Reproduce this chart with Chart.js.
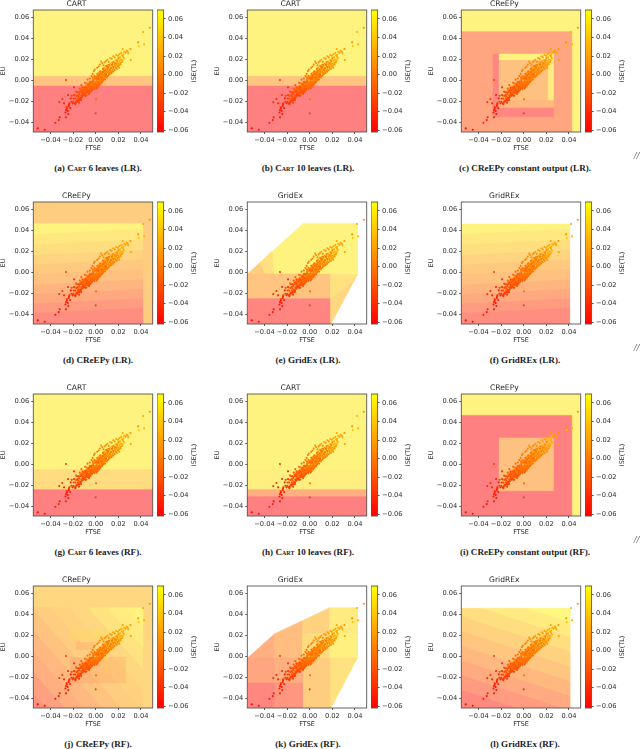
<!DOCTYPE html>
<html><head><meta charset="utf-8">
<style>
html,body{margin:0;padding:0;background:#fff;width:640px;height:749px;overflow:hidden}
canvas{position:absolute;display:block;filter:blur(0.3px)}
.cap{position:absolute;font:bold 9.1px "Liberation Serif",serif;color:#222;white-space:nowrap;transform:translate(-50%,-50%)}
.cap span{font-variant:small-caps}
.sl{position:absolute;font:italic 10px "Liberation Serif",serif;color:#444;transform:translate(-50%,-50%)}
</style></head><body>
<script src="https://cdn.jsdelivr.net/npm/chart.js@4/dist/chart.umd.js"></script>
<script>
const titles=["CART","CART","CReEPy","CReEPy","GridEx","GridREx","CART","CART","CReEPy","CReEPy","GridEx","GridREx"];
const captions=['(a) <span>Cart</span> 6 leaves (LR).','(b) <span>Cart</span> 10 leaves (LR).','(c) CReEPy constant output (LR).','(d) CReEPy (LR).','(e) GridEx (LR).','(f) GridREx (LR).','(g) <span>Cart</span> 6 leaves (RF).','(h) <span>Cart</span> 10 leaves (RF).','(i) CReEPy constant output (RF).','(j) CReEPy (RF).','(k) GridEx (RF).','(l) GridREx (RF).'];
const xTicks=[-0.04,-0.02,0,0.02,0.04];
const yTicks=[-0.04,-0.02,0,0.02,0.04,0.06];
const cbTicks=[-0.06,-0.04,-0.02,0,0.02,0.04,0.06];
const xRange=[-0.0552,0.0504], yRange=[-0.049,0.0668], cbRange=[-0.062,0.0697];

const ftse=[
-.0513,-.0451,-.0357,-.0327,-.0319,-.0263,-.0295,-.0322,-.028,-.0245,
-.0263,-.0242,-.0263,-.0257,-.0239,-.0233,-.0215,-.0221,-.0192,-.0192,
0,.0003,.0478,.0419,.0375,.0381,.0428,.0239,.0307,.0274,
.0263,.0289,.031,.0251,.0283,-.0248,-.0268,-.0255,-.0236,-.0226,
-.0198,-.0187,-.0176,-.0181,-.0169,-.0172,-.0163,-.0158,-.0161,-.0149,
-.0153,-.0146,-.0142,-.0138,-.0145,-.0136,-.0132,-.0128,-.0134,-.0126,
-.0122,-.0118,-.0124,-.0116,-.0113,-.0108,-.0112,-.0104,-.0101,-.0106,
-.0098,-.0096,-.0102,-.0093,-.0091,-.0087,-.0089,-.0084,-.0082,-.0086,
-.0079,-.0076,-.0078,-.0073,-.0071,-.0074,-.0069,-.0066,-.0068,-.0063,
-.0061,-.0064,-.0058,-.0056,-.0059,-.0053,-.0051,-.0054,-.0048,-.0046,
-.0049,-.0043,-.0041,-.0044,-.0038,-.0036,-.0039,-.0033,-.0031,-.0034,
-.0028,-.0026,-.0029,-.0023,-.0021,-.0024,-.0018,-.0016,-.0019,-.0013,
-.0011,-.0014,-.0008,-.0006,-.0009,-.0003,-.0001,-.0004,.0002,.0004,
.0001,.0007,.0009,.0006,.0012,.0014,.0011,.0017,.0019,.0016,
.0022,.0024,.0021,.0027,.0029,.0026,.0032,.0034,.0031,.0037,
.0039,.0036,.0042,.0044,.0041,.0047,.0049,.0046,.0052,.0054,
.0051,.0057,.0059,.0056,.0062,.0064,.0061,.0067,.0069,.0066,
.0072,.0074,.0071,.0077,.0079,.0076,.0082,.0084,.0081,.0087,
.0089,.0086,.0092,.0094,.0091,.0097,.0099,.0096,.0102,.0104,
.0107,.0109,.0113,.0116,.0119,.0122,.0124,.0127,.0131,.0134,
.0136,.0139,.0142,.0146,.0149,.0152,.0154,.0157,.0161,.0164,
.0167,.0171,.0174,.0177,.0181,.0184,.0187,.0192,.0196,.0199,
.0203,.0208,.0212,.0216,.0221,.0224,.0229,.0233,.0238,.0243,
-.0141,-.0117,-.0095,-.0152,-.0083,-.0127,-.0061,-.0109,-.0072,-.0134,
-.0052,-.0038,-.0091,-.0027,-.0066,-.0016,-.0045,-.0008,-.0033,-.0057,
.0013,.0026,-.0012,.0036,.0048,.0008,.0058,.0018,.0069,.0031,
.0079,.0042,.0091,.0055,.0103,.0068,.0116,.0083,.0128,.0097,
.0141,.0111,.0156,.0124,.0169,.0138,.0182,.0151,.0197,.0166,
.0211,.0179,.0226,.0193,.0241,.0206,.0218,.0186,.0248,.0232,
-.0021,.0011,.0033,-.0044,.0062,-.0071,.0086,-.0098,.0109,-.0118,
.0003,-.0037,.0024,-.0063,.0046,-.0084,.0073,.0015,-.0025,.0054,
-.0011,.0038,-.0052,.0064,-.0076,.0094,.0021,.0078,-.0088,.0117,
.0125,.0148,.0173,.0135,.0158,.0189,.0104,.0091,.0143,.0202,
-.0205,-.0195,-.0212,-.0179,-.0164,-.0188,-.0174,-.0147,-.0156,-.0129
];
const eu=[
-.0456,-.0468,-.0402,-.0377,-.0351,.0003,-.0177,-.0206,-.0218,-.0139,
-.0351,-.032,-.0282,-.0256,-.0244,-.0218,-.0203,-.0171,-.0139,-.0066,
-.0313,-.018,.05,.0459,.0361,.0326,.0342,.0298,.0298,.0282,
.0263,.0256,.0193,.0272,.0272,-.0291,-.0305,-.0268,-.0229,-.0262,
-.0204,-.0218,-.0209,-.0173,-.0192,-.0148,-.0201,-.0171,-.0139,-.0183,
-.0152,-.0118,-.0191,-.0164,-.0132,-.0098,-.0173,-.0143,-.0112,-.0089,
-.0158,-.0129,-.0102,-.0079,-.0148,-.0122,-.0097,-.0071,-.0139,-.0118,
-.0132,-.0106,-.0084,-.0062,-.0124,-.0103,-.0079,-.0058,-.0031,-.0117,
-.0096,-.0121,-.0074,-.0105,-.0052,-.0083,-.0116,-.0068,-.0092,-.0041,
-.0103,-.0059,-.0085,-.0112,-.0036,-.0072,-.0094,-.0048,-.0081,-.0063,
-.0022,-.0089,-.0054,-.0031,-.0077,-.0046,-.0011,-.0062,-.0083,-.0028,
-.0068,-.0039,-.0014,-.0073,-.0052,.0009,-.0061,-.0029,-.0044,.0021,
-.0071,-.0018,-.0036,-.0054,.0012,-.0023,-.0047,.0034,-.0063,-.0012,
-.0028,.0004,-.0041,.0019,-.0052,-.0016,.0041,-.0031,.0007,.0062,
-.0024,.0016,-.0038,.0028,-.0009,.0047,-.0029,.0011,.0073,-.0018,
.0034,-.0006,-.0022,.0021,.0058,-.0011,.0032,.0087,.0006,.0049,
.0016,.0068,-.0007,.0038,.0021,.0104,.0053,.0011,.0076,.0033,
.0019,.0092,.0048,.0063,.0029,.0121,.0081,.0041,.0057,.0108,
.0071,.0031,.0134,.0094,.0052,.0083,.0116,.0067,.0042,.0101,
.0146,.0079,.0123,.0059,.0091,.0135,.0072,.0108,.0158,.0086,
.0117,.0068,.0142,.0099,.0164,.0127,.0083,.0111,.0178,.0152,
.0096,.0137,.0169,.0121,.0193,.0148,.0109,.0176,.0138,.0204,
.0159,.0121,.0186,.0219,.0151,.0198,.0172,.0236,.0191,.0244,
-.0078,-.0066,-.0022,-.0112,-.0143,-.0045,-.0129,-.0139,.0007,-.0171,
.0018,.0041,-.0149,.0062,-.0031,.0088,-.0107,.0103,-.0091,-.0125,
.0119,.0132,-.0083,.0151,.0178,-.0076,.0162,-.0063,.0144,-.0049,
.0171,-.0033,.0183,-.0018,.0196,.0002,.0176,.0009,.0213,.0027,
.0204,.0044,.0229,.0057,.0218,.0071,.0241,.0086,.0233,.0098,
.0249,.0118,.0261,.0131,.0228,.0143,.0166,.0159,.0211,.0174,
-.0006,.0027,.0052,-.0056,.0079,-.0089,.0101,-.0087,.0119,-.0111,
.0022,-.0019,.0039,-.0041,.0066,-.0067,.0093,.0062,.0028,.0028,
.0043,.0083,-.0014,.0112,-.0102,.0136,.0017,.0059,-.0058,.0149,
.0098,.0171,.0161,.0117,.0128,.0187,.0132,.0052,.0147,.0212,
-.0218,-.0172,-.0147,-.0225,-.0113,-.0142,-.0105,-.0212,-.0192,-.0186
];
const ise=[
-.060,-.058,-.050,-.052,-.048,-.030,-.040,-.036,-.044,-.042,
-.052,-.050,-.048,-.044,-.046,-.040,-.038,-.042,-.034,-.040,
-.030,-.008,.014,.026,.010,.040,.030,.022,.012,.024,
.016,.028,.020,.030,.018,-.052,-.048,-.046,-.044,-.048,
-.034,-.030,-.036,-.026,-.028,-.024,-.032,-.020,-.026,-.030,
-.022,-.018,-.030,-.024,-.020,-.016,-.026,-.022,-.018,-.012,
-.026,-.020,-.016,-.010,-.024,-.018,-.014,-.008,-.022,-.016,
-.020,-.014,-.012,-.006,-.018,-.016,-.010,-.008,-.002,-.016,
-.012,-.018,-.008,-.014,-.004,-.010,-.016,-.006,-.012,-.002,
-.014,-.006,-.010,-.018,.000,-.008,-.012,-.004,-.010,-.006,
.002,-.012,-.004,-.002,-.010,-.004,.004,-.006,-.012,.000,
-.008,-.002,.002,-.010,-.006,.006,-.008,-.002,-.004,.008,
-.010,.000,-.004,-.006,.006,.000,-.006,.010,-.008,.002,
-.002,.004,-.006,.006,-.008,.000,.010,-.004,.004,.012,
-.002,.004,-.006,.006,.000,.010,-.004,.002,.014,.000,
.006,.000,-.002,.004,.010,.000,.006,.014,.002,.008,
.002,.012,.000,.008,.004,.016,.008,.002,.012,.006,
.004,.014,.008,.010,.004,.018,.012,.006,.008,.016,
.010,.004,.018,.014,.006,.012,.016,.010,.006,.014,
.020,.010,.016,.008,.012,.018,.010,.014,.020,.012,
.014,.008,.018,.012,.022,.016,.010,.014,.024,.020,
.012,.018,.022,.014,.026,.020,.014,.022,.018,.026,
.020,.014,.024,.028,.018,.026,.022,.030,.024,.032,
-.018,-.020,-.012,-.026,-.022,-.016,-.016,-.028,-.006,-.030,
-.008,-.006,-.026,-.004,-.014,.002,-.020,.004,-.018,-.022,
.004,.006,-.014,.010,.014,-.016,.012,-.010,.008,-.012,
.012,-.006,.014,-.006,.016,-.004,.012,-.004,.018,-.002,
.016,.002,.020,.004,.018,.006,.022,.008,.022,.010,
.024,.012,.026,.014,.026,.016,.020,.016,.026,.022,
-.010,-.008,-.006,-.014,-.004,-.016,-.002,-.018,.000,-.022,
-.008,-.012,-.006,-.014,-.004,-.018,-.002,-.004,-.010,-.006,
-.006,-.002,-.012,.000,-.018,.002,-.008,-.004,-.016,.004,
.000,.006,.008,.002,.004,.010,.000,-.004,.004,.012,
-.040,-.032,-.030,-.040,-.024,-.028,-.022,-.034,-.032,-.030
];

/* region outputs (ISE) with polygon vertices in FTSE/EU units */
const fullBox=[-.056,-.06,.06,.07];
const regionsA=[[.0573,-.056,-.06,.06,.07],[.0098,-.056,-.06,.06,.0038],[-.0615,-.056,-.06,.06,-.0054]];
const regionsB=[[.0573,-.056,-.06,.06,.07],[.0098,-.056,-.06,.06,.0038],[-.0615,-.056,-.06,.06,-.0054]];
const regionsC=[[.0573,-.056,-.06,.06,.07],[-.023,-.056,-.06,.0425,.0462],[-.054,-.0268,-.0345,-.0215,.025],[-.054,-.0268,-.0345,.0263,-.0256],[.0573,-.0215,.019,.0263,.025],[.05,.0212,-.0193,.0263,.025],[.0057,-.0215,-.0193,.0212,.019],[-.0026,-.0215,-.0256,.0263,-.0193]];
const regionsG=[[.0573,-.056,-.06,.06,.07],[.0335,-.056,-.06,.06,-.005],[-.0615,-.056,-.06,.06,-.024]];
const regionsH=[[.0573,-.056,-.06,.06,.07],[.052,-.056,-.06,.06,-.005],[-.0129,-.056,-.06,.06,-.024],[-.0615,-.056,-.06,.06,-.0307]];
const regionsI=[[.0573,-.056,-.06,.06,.07],[-.0615,-.056,-.06,.0425,.0465],[.0057,-.0215,-.025,.0263,.025]];
const hullE=[
[.0573,-.0549,-.0016,-.0059,.0465,.0422,.0465,.0422,-.0022],
[.018,-.0549,-.0016,-.0437,.0095,-.0392,-.0016],
[.0387,-.0437,.0095,-.0333,.02,-.0319,-.0016,-.0392,-.0016],
[.0098,-.0549,-.0016,.0183,-.0016,.0183,-.025,-.0549,-.025],
[-.056,-.0549,-.025,.0183,-.025,.0183,-.05,-.0549,-.05],
[.0387,.0183,-.0016,.0422,-.0022,.0333,-.0128,.0183,-.025],
[.0283,.0333,-.0128,.0422,-.0022,.0183,-.05,.0183,-.025]
];
const hullK=[
[-.0129,-.0549,-.0016,-.031,.0215,-.031,-.0016],
[.0026,-.031,-.0016,-.031,.0215,-.0065,.0339,-.0065,-.0016],
[.0232,-.0065,.0215,-.0065,.0339,.0177,.0462,.0177,.0215],
[.0335,-.0065,-.0016,-.0065,.0215,.0177,.0215,.0177,-.0016],
[.049,.0177,.0462,.0422,.0462,.0422,.0215,.0177,.0215],
[.0542,.0177,.0215,.0422,.0215,.0422,-.0016,.0177,-.0016],
[.0387,.0177,-.0016,.0422,-.0016,.0183,-.05,.0177,-.05],
[.018,-.0065,-.0016,.0177,-.0016,.0177,-.05,-.0065,-.05],
[-.023,-.0549,-.0016,-.031,-.0016,-.031,-.0253,-.0549,-.0253],
[-.0129,-.031,-.0016,-.0065,-.0016,-.0065,-.0253,-.031,-.0253],
[-.054,-.0549,-.0253,-.031,-.0253,-.031,-.05,-.0549,-.05],
[-.0387,-.031,-.0253,-.0065,-.0253,-.0065,-.05,-.031,-.05]
];
/* bands: [output, EU at left end, EU at right end], top band first */
const bandsLR=[[.0573,.07,.07],[.046,.036,.042],[.0356,.026,.032],[.025,.016,.022],[.0149,.007,.013],[.0052,-.002,.004],[-.0072,-.012,-.006],[-.019,-.021,-.015],[-.0335,-.030,-.024],[-.047,-.039,-.033]];
const bandsJ=[[.0573,.3,.3],[.049,.145,.0058],[.041,.125,-.0142],[.0283,.105,-.0342],[.0232,.085,-.0542],[.018,.065,-.0742],[.0077,.045,-.0942],[-.0026,.025,-.1142],[-.0129,.005,-.1342],[-.028,-.015,-.1542],[-.045,-.035,-.1742]];
const bandsL=[[.0625,.3,.3],[.049,.066,.0254],[.0356,.052,.0114],[.0232,.038,-.0026],[.0108,.024,-.0166],[-.0026,.01,-.0306],[-.018,-.004,-.0446],[-.0335,-.018,-.0586],[-.051,-.032,-.0726]];
/* outer shell around the rule box */
const shellD=[[.018,-.056,.0468,.0425,.0468,.0425,-.06,.06,-.06,.06,.07,-.056,.07]];
const shellF=[[null,-.056,.0465,.0416,.0465,.0416,-.06,.06,-.06,.06,.07,-.056,.07]];
const shellJ=[[.0283,-.056,.0468,.0425,.0468,.0425,-.06,.06,-.06,.06,.07,-.056,.07]];
const shellL=[[null,-.056,.0462,.0419,.0462,.0419,-.06,.06,-.06,.06,.07,-.056,.07]];
/* faint overlays in panel (j): [output, opacity, x0,y0,x1,y1] */
const patchesJ=[[-.0615,.07,-.0227,-.0253,.0268,-.0006],[-.0615,.08,-.0174,.0063,-.0015,.0136],[.0625,.1,-.0227,.015,.02,.0253],[.0625,.25,.0086,-.017,.0103,-.001]];

const tOf=v=>Math.max(0,Math.min(1,(v-cbRange[0])/(cbRange[1]-cbRange[0])));
const autumn=v=>`rgb(255,${Math.round(255*tOf(v))},0)`;
const pale=(v,a)=>v===null?'#fff':(a?`rgba(255,${Math.round(255*tOf(v))},0,${a})`:`rgb(255,${Math.round(127.5+127.5*tOf(v))},128)`);
const box=r=>({v:r[0],pts:[[r[1],r[2]],[r[3],r[2]],[r[3],r[4]],[r[1],r[4]]]});
const poly=r=>{const p=[];for(let i=1;i<r.length;i+=2)p.push([r[i],r[i+1]]);return{v:r[0],pts:p};};
const band=b=>({v:b[0],pts:[[fullBox[0],-.6],[fullBox[0],b[1]],[fullBox[2],b[2]],[fullBox[2],-.6]]});
const patch=p=>({v:p[0],a:p[1],pts:[[p[2],p[3]],[p[4],p[3]],[p[4],p[5]],[p[2],p[5]]]});
const panels=[
 regionsA.map(box),regionsB.map(box),regionsC.map(box),
 [...bandsLR.map(band),...shellD.map(poly)],hullE.map(poly),[...bandsLR.map(band),...shellF.map(poly)],
 regionsG.map(box),regionsH.map(box),regionsI.map(box),
 [...bandsJ.map(band),...patchesJ.map(patch),...shellJ.map(poly)],hullK.map(poly),[...bandsL.map(band),...shellL.map(poly)]
];

const colX=[33.3,247.3,461.3], rowY=[10,202.3,394,586], plotW=119.4, plotH=122;
const capX=[98,308,525], capDY=35.5;
const TXT='#2a2a2a', LINE='#555';
const fmt=v=>{const s=Math.abs(v).toFixed(2);return (v<-1e-9?'\u2212':'')+s;};
const tickFont={family:'"DejaVu Sans"',size:6.7};
const frame={id:'frame',afterDraw(c){const a=c.chartArea,x=c.ctx;x.save();x.strokeStyle=LINE;x.lineWidth=.9;x.strokeRect(a.left,a.top,a.right-a.left,a.bottom-a.top);x.restore();}};
const cbLabel={id:'cbLabel',afterDraw(c){const a=c.chartArea,x=c.ctx;x.save();x.fillStyle=TXT;x.font='6.4px "DejaVu Sans"';x.textAlign='center';x.textBaseline='middle';x.translate(a.right+30.5,(a.top+a.bottom)/2);x.rotate(-Math.PI/2);x.fillText('ISE(TL)',0,0);x.restore();}};
function mk(left,top,w,h){const c=document.createElement('canvas');c.width=w;c.height=h;c.style.left=left+'px';c.style.top=top+'px';c.style.width=w+'px';c.style.height=h+'px';document.body.appendChild(c);return c;}
const points=ftse.map((x,i)=>({x,y:eu[i]}));
const pointCols=ise.map(autumn);

panels.forEach((regions,i)=>{
 const col=i%3,row=Math.floor(i/3),pl=colX[col],pt=rowY[row];
 const left=pl-33.3,top=pt-10;
 const datasets=[{type:'scatter',label:'points',data:points,backgroundColor:pointCols,borderWidth:0,pointRadius:1.05,pointHoverRadius:1.05,order:0}];
 regions.forEach((r,k)=>{const c=pale(r.v,r.a);const d=r.pts.map(p=>({x:p[0],y:p[1]}));d.push(d[0]);
  datasets.push({type:'scatter',label:'region '+k,showLine:true,fill:'shape',tension:0,borderWidth:r.a?0:.6,pointRadius:0,
   backgroundColor:c,borderColor:r.a?'transparent':c,data:d,order:regions.length-k});});
 new Chart(mk(left,top,Math.ceil(33.3+plotW+1),156),{type:'scatter',data:{datasets},plugins:[frame],options:{
  responsive:false,animation:false,devicePixelRatio:1,events:[],
  layout:{padding:{left:0,top:0,right:Math.ceil(33.3+plotW+1)-33.3-plotW,bottom:0}},
  plugins:{legend:{display:false},tooltip:{enabled:false},
    title:{display:true,text:titles[i],color:TXT,font:{family:'"DejaVu Sans"',size:7.6,weight:'normal',lineHeight:1},padding:{top:0,bottom:2.4}}},
  scales:{
   x:{type:'linear',min:xRange[0],max:xRange[1],afterFit(s){s.height=24;},afterBuildTicks(s){s.ticks=xTicks.map(value=>({value}));},
      grid:{drawOnChartArea:false,drawTicks:true,tickLength:2,color:LINE},border:{display:false},
      ticks:{color:TXT,font:tickFont,padding:2.5,maxRotation:0,minRotation:0,autoSkip:false,callback:fmt},
      title:{display:true,text:'FTSE',color:TXT,font:{family:'"DejaVu Sans"',size:6.4,lineHeight:1},padding:{top:0,bottom:4}}},
   y:{type:'linear',min:yRange[0],max:yRange[1],afterFit(s){s.width=33.3;},afterBuildTicks(s){s.ticks=yTicks.map(value=>({value}));},
      grid:{drawOnChartArea:false,drawTicks:true,tickLength:2,color:LINE},border:{display:false},
      ticks:{color:TXT,font:tickFont,padding:2,autoSkip:false,callback:fmt},
      title:{display:true,text:'EU',color:TXT,font:{family:'"DejaVu Sans"',size:6.4,lineHeight:1},padding:{top:0,bottom:0}}}
  }}});
 /* colour bar */
 new Chart(mk(pl+123.7,top,52,156),{type:'bar',data:{labels:['ISE(TL)'],datasets:[{data:[cbRange],borderWidth:0,barPercentage:1,categoryPercentage:1,
   backgroundColor(ctx){const a=ctx.chart.chartArea;if(!a)return'#f00';const g=ctx.chart.ctx.createLinearGradient(0,a.bottom,0,a.top);g.addColorStop(0,'rgb(255,0,0)');g.addColorStop(1,'rgb(255,255,0)');return g;}}]},
  plugins:[frame,cbLabel],options:{responsive:false,animation:false,devicePixelRatio:1,events:[],
  layout:{padding:{left:0,top:10,right:0,bottom:24}},
  plugins:{legend:{display:false},tooltip:{enabled:false}},
  scales:{x:{display:false},
   y:{position:'right',min:cbRange[0],max:cbRange[1],afterFit(s){s.width=45.4;},afterBuildTicks(s){s.ticks=cbTicks.map(value=>({value}));},
      grid:{drawOnChartArea:false,drawTicks:true,tickLength:2,color:LINE},border:{display:false},
      ticks:{color:TXT,font:tickFont,padding:2.5,autoSkip:false,callback:fmt}}}}});
 const d=document.createElement('div');d.className='cap';d.innerHTML=captions[i];d.style.left=capX[col]+'px';d.style.top=(pt+plotH+capDY)+'px';document.body.appendChild(d);
 if(col===2&&row<3){const s=document.createElement('div');s.className='sl';s.textContent='//';s.style.left='636.5px';s.style.top=(pt+plotH+22.7)+'px';document.body.appendChild(s);}
});
</script>
</body></html>
